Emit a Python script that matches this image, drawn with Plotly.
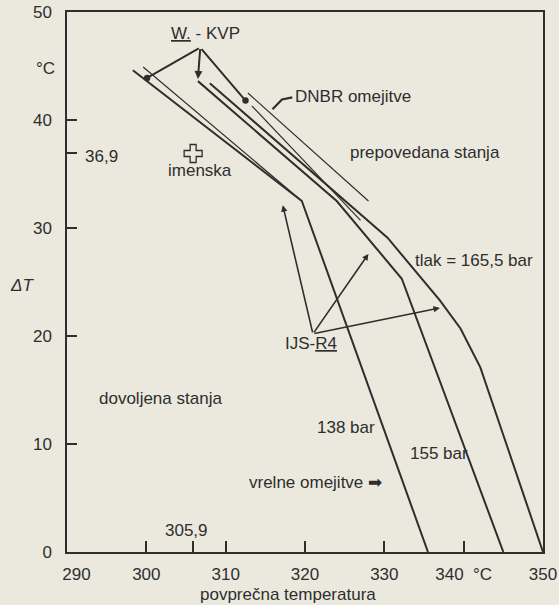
import plotly.graph_objects as go

# ---- data ----
# 138 bar limit: DNBR part + boiling part
t_138 = [298.3, 319.6, 335.5]
dt_138 = [44.6, 32.5, 0.0]
# second 138 bar DNBR line
t_138b = [299.6, 319.6]
dt_138b = [44.9, 32.5]
# 155 bar limit
t_155 = [306.5, 324.0, 332.2, 345.0]
dt_155 = [43.6, 32.5, 25.3, 0.0]
# 165.5 bar limit
t_165 = [308.0, 330.4, 337.0, 339.6, 342.1, 350.0]
dt_165 = [43.4, 29.1, 23.3, 20.7, 17.1, 0.0]
# short DNBR limit lines
t_dnbr1 = [312.8, 328.0]
dt_dnbr1 = [42.5, 32.5]
t_dnbr2 = [313.3, 327.0]
dt_dnbr2 = [41.3, 30.7]
# nominal point
t_nom = [305.9]
dt_nom = [36.9]
# W.-KVP apex and its target points
w_apex = (306.8, 46.7)
w_t = [300.1, 306.5, 312.5]
w_dt = [43.9, 43.8, 41.8]
# IJS-R4 apex and its target points
ijs_apex = (321.0, 20.2)
ijs_t = [317.2, 328.0, 337.0]
ijs_dt = [32.1, 27.6, 22.6]
# DNBR label leader hook
t_hook = [315.9, 317.1, 318.4]
dt_hook = [41.0, 41.9, 42.1]

NB = "\u00a0"
x_ticks = [290, 300, 305.9, 310, 320, 330, 340, 350]
x_ticktext = [NB * 4 + "290", "300", "", "310", "320", "330", "340" + NB + NB + "°C", "350"]
y_ticks = [0, 10, 20, 30, 36.9, 40, 50]
y_ticktext = ["0", "10", "20", "30", "", "40", "50"]

BG = "#ebe9de"
INK = "#2e2e2e"
FONT = "Liberation Sans, Arial, sans-serif"
FS = 17

fig = go.Figure()

def add_line(x, y, w):
    fig.add_trace(go.Scatter(x=x, y=y, mode="lines",
                             line=dict(color=INK, width=w),
                             showlegend=False, hoverinfo="skip"))

add_line(t_138, dt_138, 2.0)
add_line(t_138b, dt_138b, 1.2)
add_line(t_155, dt_155, 2.0)
add_line(t_165, dt_165, 2.0)
add_line(t_dnbr1, dt_dnbr1, 1.2)
add_line(t_dnbr2, dt_dnbr2, 1.2)
add_line(t_hook, dt_hook, 2.2)

fig.add_trace(go.Scatter(x=t_nom, y=dt_nom, mode="markers",
                         marker=dict(symbol="cross-open", size=15,
                                     color=INK, line=dict(width=1.3, color=INK)),
                         showlegend=False, hoverinfo="skip"))

ann = []
heads = [6, 2, 6]
for tx, ty, h in zip(w_t, w_dt, heads):
    ann.append(dict(x=tx, y=ty, ax=w_apex[0], ay=w_apex[1], xref="x", yref="y",
                    axref="x", ayref="y", showarrow=True, arrowhead=h,
                    arrowsize=0.8, arrowwidth=2, arrowcolor=INK, text=""))
for tx, ty in zip(ijs_t, ijs_dt):
    ann.append(dict(x=tx, y=ty, ax=ijs_apex[0], ay=ijs_apex[1], xref="x", yref="y",
                    axref="x", ayref="y", showarrow=True, arrowhead=2,
                    arrowsize=0.8, arrowwidth=1.6, arrowcolor=INK, text=""))

def txt(x, y, s, anchor="center", xref="x", yref="y", size=FS):
    ann.append(dict(x=x, y=y, text=s, xref=xref, yref=yref, showarrow=False,
                    xanchor=anchor, yanchor="middle",
                    font=dict(family=FONT, size=size, color=INK)))

txt(307.4, 48.0, "<u>W.</u> - KVP")
txt(318.5, 42.2, "DNBR omejitve", "left")
txt(325.4, 37.0, "prepovedana stanja", "left")
txt(306.8, 35.3, "imenska")
txt(333.6, 27.0, "tlak = 165,5 bar", "left")
txt(320.8, 19.3, "IJS-<u>R4</u>")
txt(321.3, 11.5, "138 bar", "left")
txt(333.0, 9.1, "155 bar", "left")
txt(312.7, 6.4, "vrelne omejitve ➡", "left")
txt(293.8, 14.2, "dovoljena stanja", "left")
txt(305.0, 2.0, "305,9")
txt(292.0, 36.6, "36,9", "left")
txt(-0.046, 44.8, "°C", "center", xref="paper")
txt(-0.095, 24.7, "<i>ΔT</i>", "center", xref="paper")
txt(317.9, -0.078, "povprečna temperatura", "center", yref="paper")

fig.update_layout(
    width=559, height=605,
    margin=dict(l=67, r=16, t=12, b=53, autoexpand=False),
    paper_bgcolor=BG, plot_bgcolor=BG,
    font=dict(family=FONT, size=FS, color=INK),
    annotations=ann,
    showlegend=False,
)
fig.update_xaxes(range=[290, 350], tickvals=x_ticks, ticktext=x_ticktext,
                 ticks="inside", ticklen=11, tickwidth=1.5, tickcolor=INK,
                 showline=True, linecolor=INK, linewidth=1.5, mirror=True,
                 showgrid=False, zeroline=False, ticklabelstandoff=6,
                 automargin=False,
                 tickfont=dict(family=FONT, size=FS, color=INK))
fig.update_yaxes(range=[0, 50], tickvals=y_ticks, ticktext=y_ticktext,
                 ticks="inside", ticklen=10, tickwidth=1.5, tickcolor=INK,
                 showline=True, linecolor=INK, linewidth=1.5, mirror=True,
                 showgrid=False, zeroline=False, ticklabelstandoff=10,
                 automargin=False,
                 tickfont=dict(family=FONT, size=FS, color=INK))

fig.write_html(
    "out.html",
    config={"displayModeBar": False},
    post_script="document.documentElement.style.margin='0';"
                "document.body.style.margin='0';"
                "document.body.style.overflow='hidden';"
                "document.body.style.background='%s';" % BG,
)
